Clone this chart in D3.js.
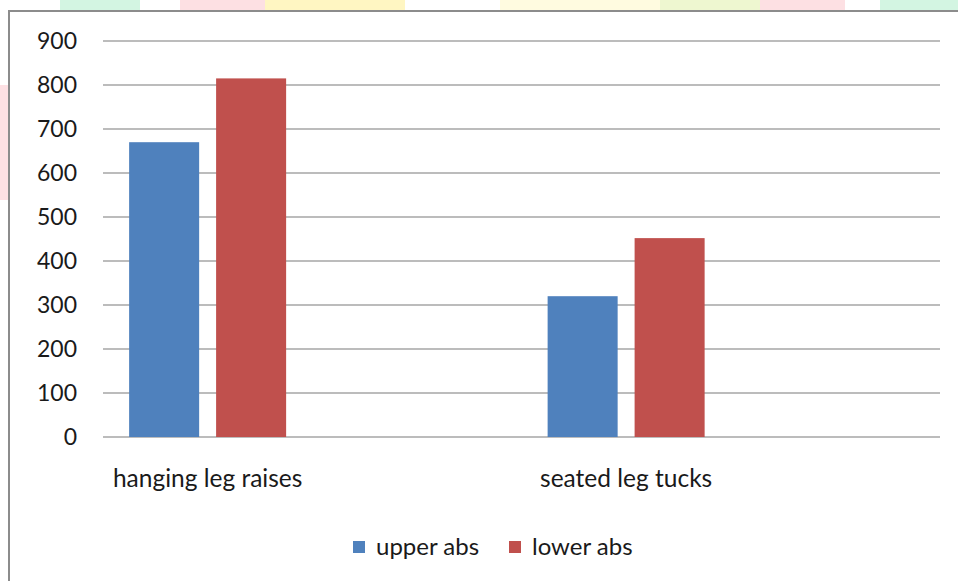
<!DOCTYPE html>
<html>
<head>
<meta charset="utf-8">
<script src="https://cdn.jsdelivr.net/npm/d3@7"></script>
<style>
  body { margin: 0; background: #fff; }
  text { font-family: Lato, "Open Sans", sans-serif; fill: #1a1a1a; }
</style>
</head>
<body>
<svg id="chart" width="958" height="581"></svg>
<script>
// chart data (slots 2 and 4 are empty categories in the source sheet)
var categories = ["hanging leg raises", " ", "seated leg tucks", "  "];
var seriesNames = ["upper abs", "lower abs"];
var upperAbs = [670, null, 320, null];
var lowerAbs = [815, null, 452, null];
var yTicks = [0, 100, 200, 300, 400, 500, 600, 700, 800, 900];
var colors = ["#4f81bd", "#c0504d"];

var svg = d3.select("#chart");

// faint watermark strip behind the chart frame
var wm = [
  {x: 60, w: 80, c: "#d3f5e2"}, {x: 180, w: 85, c: "#fde0e3"},
  {x: 265, w: 140, c: "#fff6c2"}, {x: 500, w: 160, c: "#fffbe0"},
  {x: 660, w: 100, c: "#eef7d0"}, {x: 760, w: 85, c: "#fde0e3"},
  {x: 880, w: 78, c: "#d3f5e2"}
];
svg.selectAll("rect.wm").data(wm).enter().append("rect")
  .attr("class", "wm")
  .attr("x", function(d) { return d.x; }).attr("y", 0)
  .attr("width", function(d) { return d.w; }).attr("height", 11)
  .attr("fill", function(d) { return d.c; });
svg.append("rect").attr("x", 0).attr("y", 85).attr("width", 8).attr("height", 115)
  .attr("fill", "#fde0e3");

// chart frame
svg.append("rect")
  .attr("x", 9).attr("y", 11).attr("width", 980).attr("height", 600)
  .attr("fill", "#fff").attr("stroke", "#8c8c8c").attr("stroke-width", 2);

var plot = {left: 103, right: 940, top: 41, bottom: 437};

var y = d3.scaleLinear().domain([0, 900]).range([plot.bottom, plot.top]);
var x0 = d3.scaleBand().domain(categories).range([plot.left, plot.right]).paddingInner(0).paddingOuter(0);
var groupW = 157;
var x1 = d3.scaleBand().domain(seriesNames).range([0, groupW]).paddingInner(0.195);

// gridlines
svg.append("g").selectAll("line").data(yTicks).enter().append("line")
  .attr("x1", plot.left).attr("x2", plot.right)
  .attr("y1", function(d) { return y(d); }).attr("y2", function(d) { return y(d); })
  .attr("stroke", "#a6a6a6").attr("stroke-width", 1.5);

// y axis labels
var yAxis = d3.axisLeft(y).tickValues(yTicks).tickSize(0).tickPadding(26);
var yg = svg.append("g").attr("transform", "translate(" + plot.left + ",0)").call(yAxis);
yg.select(".domain").remove();
yg.selectAll("text").style("font-size", "23px").attr("font-family", null).attr("fill", "#1a1a1a");

// bars
var rows = categories.map(function(c, i) {
  return {cat: c, vals: [{s: seriesNames[0], v: upperAbs[i]}, {s: seriesNames[1], v: lowerAbs[i]}]};
});
var groups = svg.selectAll("g.grp").data(rows).enter().append("g")
  .attr("class", "grp")
  .attr("transform", function(d) {
    return "translate(" + (x0(d.cat) + (x0.bandwidth() - groupW) / 2) + ",0)";
  });
groups.selectAll("rect").data(function(d) { return d.vals.filter(function(e) { return e.v != null; }); })
  .enter().append("rect")
  .attr("x", function(d) { return x1(d.s); })
  .attr("width", x1.bandwidth())
  .attr("y", function(d) { return y(d.v); })
  .attr("height", function(d) { return y(0) - y(d.v); })
  .attr("fill", function(d, i) { return colors[seriesNames.indexOf(d.s)]; });

// category labels
svg.append("g").selectAll("text").data(categories).enter().append("text")
  .attr("x", function(d) { return x0(d) + x0.bandwidth() / 2; })
  .attr("y", 487)
  .attr("text-anchor", "middle")
  .style("font-size", "24.5px")
  .text(function(d) { return d.trim(); });

// legend
var legend = svg.append("g").attr("transform", "translate(353,541)");
var legX = [0, 156];
seriesNames.forEach(function(name, i) {
  var g = legend.append("g").attr("transform", "translate(" + legX[i] + ",0)");
  g.append("rect").attr("width", 12).attr("height", 12).attr("fill", colors[i]);
  g.append("text").attr("x", 23).attr("y", 14).style("font-size", "24px").text(name);
});
</script>
</body>
</html>
